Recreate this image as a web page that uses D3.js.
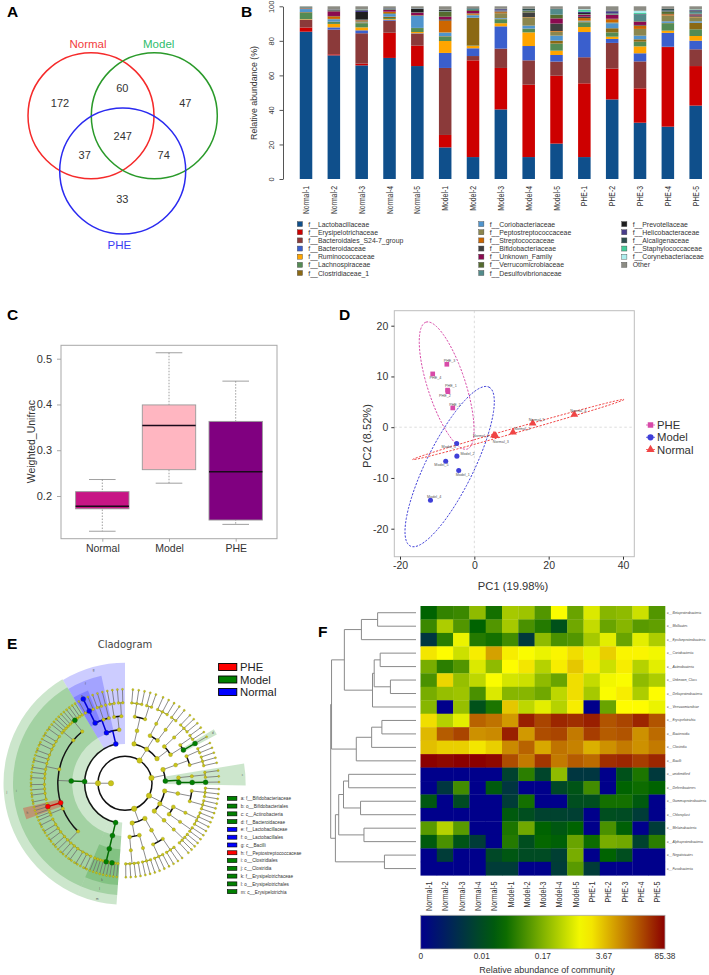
<!DOCTYPE html>
<html><head><meta charset="utf-8">
<script src="https://cdn.jsdelivr.net/npm/d3@7"></script>
<style>html,body{margin:0;padding:0;background:#fff}svg{display:block}text{font-family:"Liberation Sans",Arial,sans-serif}</style>
</head><body><svg id="fig" width="709" height="975"></svg>
<script>
// ---------- DATA ----------
const vennSets = ["Normal","Model","PHE"];
const vennCounts = [172,60,47,247,37,74,33];

const sampleNames = ["Normal-1","Normal-2","Normal-3","Normal-4","Normal-5","Model-1","Model-2","Model-3","Model-4","Model-5","PHE-1","PHE-2","PHE-3","PHE-4","PHE-5"];
const familyNames = ["f__Lactobacillaceae","f__Erysipelotrichaceae","f__Bacteroidales_S24-7_group","f__Bacteroidaceae","f__Ruminococcaceae","f__Lachnospiraceae","f__Clostridiaceae_1","f__Coriobacteriaceae","f__Peptostreptococcaceae","f__Streptococcaceae","f__Bifidobacteriaceae","f__Unknown_Family","f__Verrucomicrobiaceae","f__Desulfovibrionaceae","f__Prevotellaceae","f__Helicobacteraceae","f__Alcaligenaceae","f__Staphylococcaceae","f__Corynebacteriaceae","Other"];
const familyColors = ["#0f4f8b","#cd0000","#8b3a3a","#3a5fcd","#ffa500","#548b54","#8b6914","#4f94cd","#8b864e","#cd6600","#404040","#8b0a50","#556b2f","#528b8b","#1f1f1f","#483d8b","#2f4f4f","#43cd9a","#aeeeee","#8c8c84"];
const abundance = [
[85.3,2.4,4.4,0.2,0.3,3.6,0.4,1.8,0.3,0.1,0.1,0.1,0.2,0.3,0.1,0,0.1,0,0,0.3],
[71.6,0.6,14.3,1.3,2,1.1,0.2,1.4,0.2,1.5,0.2,2.7,0.3,0.2,0.4,0.1,0.1,0,0,1.8],
[65.8,1,17.6,1.7,1.7,2.4,0.4,0.2,0.6,0.4,0.1,0.1,0.1,0.2,4.4,0.8,0.4,0.1,0.1,1.9],
[70.1,14.6,7,0.5,0.4,0.6,0.8,1.5,0.6,0.7,0.1,1,0.2,0.2,0.2,0.2,0.2,0,0,1.1],
[65.4,11.8,7,0.2,0.7,2.3,0.1,6.9,0.2,0.1,0.2,1.4,0.1,0.1,2.1,0.1,0.1,0,0.1,1.1],
[18.3,7.2,38.8,8.7,6.9,2.5,0.3,2,0.2,6.8,0.8,1.5,2.9,0.3,0.6,0.1,0.1,0,0,2],
[12.7,56,2.5,4.5,1.3,0.3,16.1,1.4,0.3,0.7,0.2,1.3,0.5,0.7,0.1,0,0.3,0,0,1.1],
[40.3,24,11.2,12.9,1.8,2.3,0.3,0.4,2.8,0.6,0.2,0.2,0.2,0.3,0.1,0.7,0.3,0,0,1.4],
[12.7,41.9,14.1,8.3,7.9,2,0.2,1.7,4.8,0.2,2.5,0.1,0.8,0.4,0.1,0.1,0.9,0,0,1.3],
[20.5,39.3,8.2,3.8,2.5,4.1,1.7,2.9,2.3,0.4,4.3,3,2.2,3.2,0.1,0,0,0,0,1.5],
[12.7,42.7,15.1,14.6,2.9,2.7,0.3,0.3,0.4,1.5,0.8,1,0.3,0.2,0.6,0.6,0.2,1,0.4,1.7],
[46.1,17.8,14.9,2.3,1.3,2.5,2.4,2.9,0.5,1.8,0.3,2.2,0.3,0.4,0.2,1.2,0.4,0,0,2.5],
[32.6,19.9,15.6,4.7,4,2.7,1.4,2.1,3.9,1.9,0.4,1.9,0.3,3.6,0.1,0.2,0.2,0.6,1.3,2.6],
[30.3,46.1,0.2,8,1.3,4.3,0.2,0.9,3.4,0.7,0.1,0.1,1.3,0.2,0.2,0.2,1,0,0,1.5],
[42.5,22.9,9.7,5,2.7,3.9,3.8,0.8,2.3,0.4,0.7,0.6,0.4,1.3,0.3,0.4,0.2,0.2,0.1,1.8]];
const abundanceTicks = [0,20,40,60,80,100];

const boxGroups = ["Normal","Model","PHE"];
const boxColors = ["#c71585","#ffb6c1","#800080"];
const boxLow = [0.123,0.228,0.138];
const boxQ1 = [0.172,0.2575,0.1475];
const boxMedian = [0.1775,0.354,0.253];
const boxQ3 = [0.2095,0.399,0.363];
const boxHigh = [0.236,0.513,0.451];
const boxTicks = [0.2,0.3,0.4,0.5];

const pcaGroups = ["PHE","Model","Normal"];
const pcaColors = ["#d84aa8","#3f3fd8","#f04545"];
const phePoints = [["PHE_3",-7.4,12.4],["PHE_4",-11.2,10.5],["PHE_1",-7.2,7.3],["PHE_2",-7.1,7.0],["PHE_5",-5.8,3.8]];
const modelPoints = [["Model_3",-4.75,-3.2],["Model_2",-4.7,-5.7],["Model_5",-7.7,-6.7],["Model_1",-4.2,-8.55],["Model_4",-11.8,-14.4]];
const normalPoints = [["Normal_4",26.9,2.5],["Normal_5",15.7,0.8],["Normal_2",10.4,-1.0],["Normal_1",5.3,-1.6],["Normal_3",5.7,-1.7]];
// ellipses in PC units: centre, major semi-axis vector, minor semi-axis vector
const pheEllipse = [-7.45,8.2,-5.56,12.5,4.84,1.15];
const modelEllipse = [-6.64,-7.76,10.58,15.66,5.7,-2.07];
const normalEllipse = [11.84,-0.46,28.43,5.92,0.18,-0.46];
const pcaXTicks = [-20,0,20,40];
const pcaYTicks = [-20,-10,0,10,20];

// cladogram: phylum > class > order > family > [species per genus]
const cladeTree = [
 [ [[[1,1,1],[1,1]]], [[[1,1,1]],[[1,1]]], [[[1,1,1]],[[1,1],[1]]] ],
 [ [[[1,1],[1,1,1]]], [[[1,1]],[[1]]] ],
 [ [[[1,1,1],[1,1,1]]], [[[1,1,1,1]],[[1,1]]], [[[1,1,1,1]]] ],
 [ [[[1,1,1],[1,1,1]]], [[[1,1,1]],[[1,1,1,1]]] ],
 [ [[[1,1,1,1,1,1,1,1,1]]],
   [[[2,1,2,2,1,2,1,2,2,1,2,2],[1,1],[1,1,1],[2,2,1,2,2,1,2,2,1,2,2,1,2,2],[1,1],[1,1,1,1,1,1,1,1]]],
   [[[1,1,1],[1,1],[1]],[[1,1],[1,1]]] ]
];
const cladeGroups = ["PHE","Model","Normal"];
const cladeColors = {PHE:"#ff0000",Model:"#008000",Normal:"#0000ff"};
const biomarkers = [
 ["4.2","Normal","g"],["4.2.0","Normal","f"],["4.2.0.0","Normal","e"],["4.2.0.0.1","Normal",""],["4.2.0.0.1.0","Normal",""],
 ["4.1","Model","j"],["4.1.0","Model","i"],
 ["4.0","Model","m"],["4.0.0","Model","l"],["4.0.0.0","Model","k"],["4.0.0.0.2","Model",""],["4.0.0.0.4","Model",""],
 ["4.1.0.2","PHE","h"],["4.1.0.2.1","PHE",""],["4.1.0.5.4","Model",""],
 ["1.1","Model","c"],["1.1.1","Model",""],["1.1.1.0","Model",""],["1.1.1.0.0","Model",""],
 ["0.2.1.1","Model","d"],["0.2.1.1.0","Model",""]
];
const cladeLegend = [["a: f__Bifidobacteriaceae","Model"],["b: o__Bifidobacteriales","Model"],["c: c__Actinobacteria","Model"],["d: f__Bacteroidaceae","Model"],["e: f__Lactobacillaceae","Normal"],["f: o__Lactobacillales","Normal"],["g: c__Bacilli","Normal"],["h: f__Peptostreptococcaceae","PHE"],["i: o__Clostridiales","Model"],["j: c__Clostridia","Model"],["k: f__Erysipelotrichaceae","Model"],["l: o__Erysipelotrichales","Model"],["m: c__Erysipelotrichia","Model"]];

const heatClasses = ["c__Betaproteobacteria","c__Mollicutes","c__Epsilonproteobacteria","c__Coriobacteriia","c__Actinobacteria","c__Unknown_Class","c__Deltaproteobacteria","c__Verrucomicrobiae","c__Erysipelotrichia","c__Bacteroidia","c__Clostridia","c__Bacilli","c__unidentified","c__Deferribacteres","c__Gammaproteobacteria","c__Chloroplast","c__Melainabacteria","c__Alphaproteobacteria","c__Negativicutes","c__Fusobacteriia"];
// position of each cell on the colour bar (0 = lowest, 100 = highest abundance)
const heatLevels = [
[33,40,41,52,36,55,54,44,66,47,62,51,52,60,44],
[41,56,44,33,44,55,43,38,27,48,59,47,51,45,46],
[18,39,64,38,36,42,19,52,43,44,55,63,47,63,56],
[70,67,60,69,79,69,66,64,68,71,64,73,68,68,65],
[49,39,44,62,52,67,70,57,69,74,69,60,69,57,63],
[43,72,53,58,66,61,60,52,47,71,59,65,66,52,56],
[49,53,54,43,62,51,51,48,58,71,55,66,69,56,67],
[51,0,53,27,37,74,58,63,57,69,0,47,67,67,64],
[71,57,63,87,85,80,96,91,95,94,96,89,91,95,89],
[76,88,91,81,82,96,80,90,91,84,92,88,89,81,86],
[75,73,73,70,73,82,87,78,85,83,77,81,84,81,84],
[100,99,100,100,99,90,84,93,84,88,86,94,95,92,95],
[0,0,0,0,0,22,39,23,52,18,18,0,27,37,19],
[0,18,42,0,30,18,0,0,24,28,42,0,33,35,33],
[29,0,25,0,0,20,36,0,0,26,26,36,36,30,0],
[0,0,0,0,0,30,26,22,22,21,0,26,25,20,0],
[45,57,45,0,0,37,48,33,29,33,0,43,32,0,20],
[30,43,28,20,0,38,26,34,32,47,35,49,48,22,39],
[0,20,0,0,24,29,25,25,21,49,0,33,26,0,0],
[0,0,0,0,20,20,0,0,20,45,20,0,0,0,0]];
const heatBarLabels = ["0","0.01","0.17","3.67","85.38"];
const heatBarLevels = [0,25,50,75,100];
const heatRamp = ["#00008b","#006400","#ffff00","#8b0000"];
// dendrogram: [merge height, left, right]; a plain number is a row index
const rowDendrogram = [100,
 [99,
  [84,[64,[45,0,1],2],[51,[49,[42,3,4],[30,5,6]],7]],
  [70,[52,[40,8,9],10],11]],
 [94.5,[90.6,[85,[79,12,13],[65,14,15]],[61,16,17]],[37,18,19]]];

// ---------- HELPERS ----------
const svg = d3.select("#fig");
svg.append("rect").attr("width",709).attr("height",975).attr("fill","#fff");
const panelLetters = [["A",7,17],["B",241,17],["C",7,320],["D",339,320],["E",7,649],["F",318,637]];
svg.selectAll("text.panel").data(panelLetters).join("text").attr("class","panel")
  .attr("x",d=>d[1]).attr("y",d=>d[2]).attr("font-size",15.5).attr("font-weight","bold").attr("fill","#000").text(d=>d[0]);
function styleAxis(g,color,tc,fs){
  g.selectAll("path.domain").attr("stroke",color);
  g.selectAll(".tick line").attr("stroke",color);
  g.selectAll(".tick text").attr("fill",tc).attr("font-size",fs).attr("font-family",'"Liberation Sans",Arial,sans-serif');
}

// ---------- A: VENN ----------
(function(){
  const g = svg.append("g");
  const centres = [[91,115.7],[154.3,115.7],[122.7,171]];
  const strokes = ["#f52a2a","#2a9a2a","#2a2af0"];
  const nameColors = ["#f23c3c","#2fbd6c","#3c3cf2"];
  const namePos = [[88,48],[158.7,48],[119.3,249]];
  g.selectAll("circle").data(vennSets).join("circle")
    .attr("cx",(d,i)=>centres[i][0]).attr("cy",(d,i)=>centres[i][1]).attr("r",63)
    .attr("fill","none").attr("stroke",(d,i)=>strokes[i]).attr("stroke-width",1.5);
  g.selectAll("text.n").data(vennSets).join("text").attr("class","n").attr("text-anchor","middle")
    .attr("x",(d,i)=>namePos[i][0]).attr("y",(d,i)=>namePos[i][1]).attr("font-size",11.5).attr("fill",(d,i)=>nameColors[i]).text(d=>d);
  const cPos = [[60,106.7],[122.3,92.3],[185.3,106.7],[122.7,140],[84.7,159],[163.7,159],[122.3,203.3]];
  g.selectAll("text.c").data(vennCounts).join("text").attr("class","c").attr("text-anchor","middle")
    .attr("x",(d,i)=>cPos[i][0]).attr("y",(d,i)=>cPos[i][1]).attr("font-size",11).attr("fill","#333").text(d=>d);
})();

// ---------- B: STACKED BARS ----------
(function(){
  const g = svg.append("g");
  const x = d3.scaleBand().domain(sampleNames).range([292.1,709.6]).paddingInner(0.55).paddingOuter(0.275);
  const y = d3.scaleLinear().domain([0,100]).range([179,6.3]);
  const stack = d3.stack().keys(d3.range(familyNames.length))(abundance);
  g.selectAll("g.s").data(stack).join("g").attr("class","s").attr("fill",(d,i)=>familyColors[i])
    .selectAll("rect").data(d=>d).join("rect")
    .attr("x",(d,i)=>x(sampleNames[i])).attr("width",x.bandwidth())
    .attr("y",d=>y(d[1])).attr("height",d=>Math.max(0,y(d[0])-y(d[1])));
  const ax = g.append("g").attr("transform","translate(283,0)").call(d3.axisLeft(y).tickValues(abundanceTicks).tickSize(3.5).tickSizeOuter(0));
  styleAxis(ax,"#555","#333",7.5);
  ax.selectAll(".tick text").attr("text-anchor","middle").attr("x",0).attr("dy",0).attr("y",0)
    .attr("transform","translate(-9,0) rotate(-90)");
  g.append("text").attr("transform","translate(257,93) rotate(-90)").attr("text-anchor","middle").attr("font-size",8.8).attr("fill","#333").text("Relative abundance (%)");
  g.selectAll("text.xl").data(sampleNames).join("text").attr("class","xl").attr("text-anchor","end")
    .attr("transform",d=>`translate(${x(d)+x.bandwidth()/2+3},186) rotate(-90) scale(0.76,1)`)
    .attr("font-size",9).attr("fill","#333").text(d=>d);
  const colX = [297.3,478.7,621.7];
  const lg = familyNames.map((n,i)=>{const c=i<7?0:i<14?1:2;const r=i<7?i:i<14?i-7:i-14;return {n,i,c,r};});
  g.selectAll("rect.lg").data(lg).join("rect").attr("class","lg")
    .attr("x",d=>colX[d.c]).attr("y",d=>221.6+d.r*8.15).attr("width",5.2).attr("height",5)
    .attr("fill",d=>familyColors[d.i]).attr("stroke","#444").attr("stroke-width",0.4);
  g.selectAll("text.lgt").data(lg).join("text").attr("class","lgt")
    .attr("x",d=>colX[d.c]+11).attr("y",d=>226.7+d.r*8.15).attr("font-size",6.9).attr("fill","#333").text(d=>d.n);
})();

// ---------- C: BOX PLOT ----------
(function(){
  const g = svg.append("g");
  const x = d3.scalePoint().domain(boxGroups).range([102.3,235.7]);
  const y = d3.scaleLinear().domain([0.2,0.5]).range([496,358.7]);
  const frame = "#a8a8a8";
  g.append("rect").attr("x",61).attr("y",345.3).attr("width",216).attr("height",193.4).attr("fill","none").attr("stroke",frame).attr("stroke-width",1);
  const items = boxGroups.map((n,i)=>({n,i}));
  const bw = 26.7, cw = 13.3;
  const b = g.selectAll("g.b").data(items).join("g").attr("class","b");
  b.append("line").attr("x1",d=>x(d.n)).attr("x2",d=>x(d.n)).attr("y1",d=>y(boxHigh[d.i])).attr("y2",d=>y(boxLow[d.i]))
    .attr("stroke","#888").attr("stroke-dasharray","1.5,1.5").attr("stroke-width",0.8);
  [boxHigh,boxLow].forEach(arr=>{
    b.append("line").attr("x1",d=>x(d.n)-cw).attr("x2",d=>x(d.n)+cw).attr("y1",d=>y(arr[d.i])).attr("y2",d=>y(arr[d.i])).attr("stroke","#888").attr("stroke-width",0.8);
  });
  b.append("rect").attr("x",d=>x(d.n)-bw).attr("width",2*bw).attr("y",d=>y(boxQ3[d.i])).attr("height",d=>y(boxQ1[d.i])-y(boxQ3[d.i]))
    .attr("fill",d=>boxColors[d.i]).attr("stroke","#999").attr("stroke-width",0.9);
  b.append("line").attr("x1",d=>x(d.n)-bw).attr("x2",d=>x(d.n)+bw).attr("y1",d=>y(boxMedian[d.i])).attr("y2",d=>y(boxMedian[d.i])).attr("stroke","#1a0a1a").attr("stroke-width",1.5);
  const ay = g.append("g").attr("transform","translate(61,0)").call(d3.axisLeft(y).tickValues(boxTicks).tickFormat(d3.format(".1f")).tickSize(4).tickPadding(5));
  ay.select("path.domain").remove();
  styleAxis(ay,frame,"#333",11);
  const ax = g.append("g").attr("transform","translate(0,538.7)").call(d3.axisBottom(x).tickSize(3));
  ax.select("path.domain").remove();
  styleAxis(ax,frame,"#333",10.5);
  ax.selectAll(".tick text").attr("y",5.5).attr("dy","0.71em");
  g.append("text").attr("transform","translate(35,441.7) rotate(-90)").attr("text-anchor","middle").attr("font-size",10.5).attr("fill","#333").text("Weighted_Unifrac");
})();

// ---------- D: PCA ----------
(function(){
  const g = svg.append("g");
  const x = d3.scaleLinear().domain([-20,40]).range([400,623]);
  const y = d3.scaleLinear().domain([-20,20]).range([528.7,325.7]);
  const frame = "#bdbdbd";
  g.append("line").attr("x1",x(0)).attr("x2",x(0)).attr("y1",310.7).attr("y2",556.7).attr("stroke","#ddd").attr("stroke-dasharray","2.5,2.5");
  g.append("line").attr("x1",394.3).attr("x2",634.3).attr("y1",y(0)).attr("y2",y(0)).attr("stroke","#ddd").attr("stroke-dasharray","2.5,2.5");
  g.append("rect").attr("x",394.3).attr("y",310.7).attr("width",240).attr("height",246).attr("fill","none").attr("stroke",frame).attr("stroke-width",1);
  const ell = d3.line().x(d=>x(d[0])).y(d=>y(d[1])).curve(d3.curveLinearClosed);
  const ellPts = e => d3.range(0,120).map(k=>{const t=k/120*2*Math.PI;return [e[0]+e[2]*Math.cos(t)+e[4]*Math.sin(t), e[1]+e[3]*Math.cos(t)+e[5]*Math.sin(t)];});
  const ellipses = [pheEllipse,modelEllipse,normalEllipse];
  g.selectAll("path.e").data(ellipses).join("path").attr("class","e").attr("d",d=>ell(ellPts(d)))
    .attr("fill","none").attr("stroke",(d,i)=>pcaColors[i]).attr("stroke-width",1).attr("stroke-dasharray","2.2,1.4");
  const sets = [phePoints,modelPoints,normalPoints];
  const syms = [d3.symbolSquare,d3.symbolCircle,d3.symbolTriangle];
  const sz = [22,20,26];
  const labelOff = [[[2.7,-3.7],[2.7,4],[3.3,-4],[-3,4],[2.3,-2.7]],[[-8,3.7],[10.7,-2],[-4.3,4],[4,4],[3.7,-3.3]],[[4,-3.7],[4,-3],[9,-3.7],[-13,0.7],[5.3,6]]];
  sets.forEach((pts,k)=>{
    g.selectAll("path.p"+k).data(pts).join("path").attr("class","p"+k)
      .attr("transform",d=>`translate(${x(d[1])},${y(d[2])})`)
      .attr("d",d3.symbol().type(syms[k]).size(sz[k])).attr("fill",pcaColors[k]);
    g.selectAll("text.l"+k).data(pts).join("text").attr("class","l"+k).attr("text-anchor","middle")
      .attr("x",(d,i)=>x(d[1])+labelOff[k][i][0]).attr("y",(d,i)=>y(d[2])+labelOff[k][i][1]+1.2)
      .attr("font-size",3.7).attr("fill","#555").text(d=>d[0]);
  });
  const ax = g.append("g").attr("transform","translate(0,556.7)").call(d3.axisBottom(x).tickValues(pcaXTicks).tickSize(3));
  ax.select("path.domain").remove(); styleAxis(ax,"#333","#333",10.5);
  ax.selectAll(".tick text").text(d=>d).attr("y",5);
  const ay = g.append("g").attr("transform","translate(394.3,0)").call(d3.axisLeft(y).tickValues(pcaYTicks).tickSize(3));
  ay.select("path.domain").remove(); styleAxis(ay,"#333","#333",10.5);
  ay.selectAll(".tick text").text(d=>d);
  g.append("text").attr("x",513).attr("y",590).attr("text-anchor","middle").attr("font-size",11.2).attr("fill","#333").text("PC1 (19.98%)");
  g.append("text").attr("transform","translate(371,436) rotate(-90)").attr("text-anchor","middle").attr("font-size",11.2).attr("fill","#333").text("PC2 (8.52%)");
  const ly = [425,437.3,449.5];
  g.selectAll("path.lg").data(pcaGroups).join("path").attr("class","lg")
    .attr("transform",(d,i)=>`translate(650.5,${ly[i]})`).attr("d",(d,i)=>d3.symbol().type(syms[i]).size(30)()).attr("fill",(d,i)=>pcaColors[i]);
  g.selectAll("line.lg").data(pcaGroups).join("line").attr("class","lg")
    .attr("x1",646).attr("x2",655).attr("y1",(d,i)=>ly[i]).attr("y2",(d,i)=>ly[i]).attr("stroke",(d,i)=>pcaColors[i]).attr("stroke-width",0.8);
  g.selectAll("text.lg").data(pcaGroups).join("text").attr("class","lg").attr("x",657).attr("y",(d,i)=>ly[i]+4)
    .attr("font-size",11.3).attr("fill","#333").text(d=>d);
})();

// ---------- E: CLADOGRAM ----------
(function(){
  const g0 = svg.append("g");
  g0.append("text").attr("x",125).attr("y",647.5).attr("text-anchor","middle").attr("font-family","DejaVu Sans").style("font-family","DejaVu Sans").attr("font-size",10).attr("fill","#444").text("Cladogram");
  const g = g0.append("g").attr("transform","translate(125,783.3)");
  const root = d3.hierarchy(cladeTree, d=>Array.isArray(d)?d:(d>0?d3.range(d).map(()=>0):null));
  const levelR = d3.scaleLinear().domain([1,6]).range([27,94]);
  const classArcs = [[3,21],[22,41],[42,62],[63,79],[80.5,91],[92,110],[110,128],[128,139],[141,160],[160,181],[184,203],[203,329],[329,360]];
  root.descendants().filter(n=>n.depth===2).forEach((c,k)=>{
    const lv = c.leaves();
    const s = d3.scaleLinear().domain([0,lv.length]).range(classArcs[k]);
    lv.forEach((l,i)=>{l.a=s(i+.5); l.a0=s(i); l.a1=s(i+1);});
  });
  root.eachAfter(n=>{ if(n.children){ const c=n.children; n.a=(c[0].a+c[c.length-1].a)/2; n.a0=c[0].a0; n.a1=c[c.length-1].a1; }});
  const idOf = n=>{const p=[];let c=n;while(c.parent){p.unshift(c.parent.children.indexOf(c));c=c.parent;}return p.join(".");};
  const marks = new Map(biomarkers.map(b=>[b[0],b]));
  const nodes = root.descendants();
  nodes.forEach(n=>{n.id=idOf(n); n.mark=marks.get(n.id); n.r=n.depth?levelR(n.depth):14;});
  const rad = a=>(a-90)*Math.PI/180;
  const px=(a,r)=>r*Math.cos(rad(a)), py=(a,r)=>r*Math.sin(rad(a));
  root.a = root.children[4].a;
  // wedges
  const arc = d3.arc();
  const outer = {"4.2":120.5,"4.2.0":110,"4.2.0.0":100,"4.1":121.5,"4.1.0":112,"4.0":121.5,"4.0.0":112,"4.0.0.0":102,"4.1.0.2":105,"1.1":120.7,"0.2.1.1":104};
  const wedgeNodes = nodes.filter(n=>n.mark&&n.mark[2]);
  g.selectAll("path.w").data(wedgeNodes).join("path").attr("class","w")
    .attr("d",n=>arc({innerRadius:n.r-1,outerRadius:outer[n.id],startAngle:n.a0*Math.PI/180,endAngle:n.a1*Math.PI/180}))
    .attr("fill",n=>cladeColors[n.mark[1]]).attr("fill-opacity",n=>n.mark[1]==="PHE"?0.28:0.2);
  g.selectAll("text.wl").data(wedgeNodes).join("text").attr("class","wl").attr("text-anchor","middle")
    .attr("x",n=>px((n.a0+n.a1)/2,outer[n.id]-3)).attr("y",n=>py((n.a0+n.a1)/2,outer[n.id]-3)+1)
    .attr("font-size",3).attr("fill","#555").text(n=>n.mark[2]);
  // tree links
  const links = g.append("g").attr("fill","none");
  links.append("circle").attr("r",levelR(1)).attr("stroke","#111").attr("stroke-width",1.5);
  nodes.filter(n=>n.children).forEach(n=>{
    const childR = levelR(n.depth+1);
    const chained = n.children.find(c=>c.mark&&n.mark&&c.mark[1]===n.mark[1]);
    if(n.depth>0){
      links.append("line").attr("x1",px(n.a,n.r)).attr("y1",py(n.a,n.r)).attr("x2",px(n.a,childR)).attr("y2",py(n.a,childR))
        .attr("stroke",chained?d3.color(cladeColors[n.mark[1]]).darker(0.5):"#6e6e6e").attr("stroke-width",chained?1.5:0.8);
    }
    const c=n.children, f=c[0].a, l=c[c.length-1].a;
    if(n.depth>0 && c.length>1){
      links.append("path").attr("d",d3.arc()({innerRadius:childR,outerRadius:childR,startAngle:f*Math.PI/180,endAngle:l*Math.PI/180}))
        .attr("stroke",n.depth<=3?"#141414":"#9a9a30").attr("stroke-width",n.depth<=3?1.5:0.8);
    }
    if(chained && c.length>1){
      links.append("path").attr("d",d3.arc()({innerRadius:childR,outerRadius:childR,startAngle:Math.min(n.a,chained.a)*Math.PI/180,endAngle:Math.max(n.a,chained.a)*Math.PI/180}))
        .attr("stroke",d3.color(cladeColors[n.mark[1]]).darker(0.5)).attr("stroke-width",1.5);
    }
  });
  links.append("line").attr("x1",px(root.a,14)).attr("y1",py(root.a,14)).attr("x2",px(root.a,27)).attr("y2",py(root.a,27)).attr("stroke","#6e6e6e").attr("stroke-width",0.8);
  // nodes
  const sizes = [2.7,2.7,2.3,2,1.7,1.35,1.05];
  g.selectAll("circle.nd").data(nodes.slice().sort((a,b)=>(a.mark?1:0)-(b.mark?1:0))).join("circle").attr("class","nd")
    .attr("cx",n=>px(n.a,n.r)).attr("cy",n=>py(n.a,n.r)).attr("r",n=>n.mark?2.5:sizes[n.depth])
    .attr("fill",n=>n.mark?cladeColors[n.mark[1]]:"#c9c41a")
    .attr("stroke",n=>n.mark?"#2a4a2a":"#8a8a10").attr("stroke-width",0.3);
  // legends
  const ly=[667,679.5,692];
  const lgg=g0.append("g");
  lgg.selectAll("rect").data(cladeGroups).join("rect").attr("x",218.6).attr("y",(d,i)=>ly[i]-3.5).attr("width",18.2).attr("height",7)
    .attr("fill",d=>cladeColors[d]).attr("stroke","#000").attr("stroke-width",0.9);
  lgg.selectAll("text").data(cladeGroups).join("text").attr("x",240).attr("y",(d,i)=>ly[i]+4).attr("font-size",11.3).attr("fill","#222").text(d=>d);
  const l2=g0.append("g");
  l2.selectAll("rect").data(cladeLegend).join("rect").attr("x",227.3).attr("y",(d,i)=>796.3+i*7.78).attr("width",9.6).attr("height",4)
    .attr("fill",d=>cladeColors[d[1]]).attr("stroke","#000").attr("stroke-width",0.6);
  l2.selectAll("text").data(cladeLegend).join("text").attr("x",240.7).attr("y",(d,i)=>800.2+i*7.78).attr("font-size",4.7).attr("fill","#333").text(d=>d[0]);
})();

// ---------- F: HEATMAP ----------
(function(){
  const g = svg.append("g");
  const x = d3.scaleBand().domain(sampleNames).range([420.5,665]);
  const y = d3.scaleBand().domain(heatClasses).range([606,875.3]);
  const color = d3.scaleLinear().domain([0,33.33,66.67,100]).range(heatRamp);
  const cells = heatLevels.flatMap((row,r)=>row.map((v,c)=>({r,c,v})));
  g.selectAll("rect.c").data(cells).join("rect").attr("class","c")
    .attr("x",d=>x(sampleNames[d.c])).attr("y",d=>y(heatClasses[d.r]))
    .attr("width",x.bandwidth()+.3).attr("height",y.bandwidth()+.3).attr("fill",d=>color(d.v));
  g.selectAll("text.rl").data(heatClasses).join("text").attr("class","rl")
    .attr("x",667).attr("y",d=>y(d)+y.bandwidth()/2+1).attr("font-size",3.4).attr("font-style","italic").attr("fill","#444").text(d=>d);
  g.selectAll("text.xl").data(sampleNames).join("text").attr("class","xl").attr("text-anchor","end")
    .attr("transform",d=>`translate(${x(d)+x.bandwidth()/2+3.4},881.5) rotate(-90) scale(0.74,1)`)
    .attr("font-size",9.7).attr("fill","#333").text(d=>d);
  // dendrogram from merge heights
  const hx = d3.scaleLinear().domain([0,100]).range([416,330.7]);
  const dg = g.append("g").attr("fill","none").attr("stroke","#8a8a8a").attr("stroke-width",1);
  const rowMid = i=>y(heatClasses[i])+y.bandwidth()/2;
  function walk(n){
    if(typeof n==="number") return {h:0,y:rowMid(n)};
    const a=walk(n[1]), b=walk(n[2]), X=hx(n[0]);
    dg.append("path").attr("d",`M${hx(a.h)},${a.y}H${X}V${b.y}H${hx(b.h)}`);
    return {h:n[0],y:(a.y+b.y)/2};
  }
  walk(rowDendrogram);
  // colour bar: gradient stops come from the colour scale
  const bx = d3.scaleLinear().domain([0,100]).range([420.7,665]);
  const grad = svg.append("defs").append("linearGradient").attr("id","heatBar");
  grad.selectAll("stop").data(d3.range(0,101,5)).join("stop").attr("offset",d=>d+"%").attr("stop-color",d=>color(d));
  g.append("rect").attr("x",420.7).attr("y",915.3).attr("width",244.3).attr("height",33.7).attr("fill","url(#heatBar)").attr("stroke","#aaa").attr("stroke-width",.8);
  g.selectAll("text.bt").data(heatBarLabels).join("text").attr("class","bt").attr("text-anchor","middle")
    .attr("x",(d,i)=>bx(heatBarLevels[i])).attr("y",958.6).attr("font-size",8.3).attr("fill","#333").text(d=>d);
  g.append("text").attr("x",547).attr("y",973).attr("text-anchor","middle").attr("font-size",9).attr("fill","#333").text("Relative abundance of community");
})();
</script></body></html>
